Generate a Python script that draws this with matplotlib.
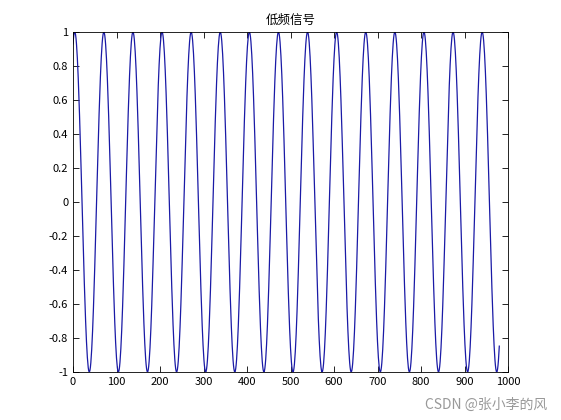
import numpy as np
import matplotlib
matplotlib.use("Agg")
import matplotlib.pyplot as plt

plt.rcParams['font.family'] = ['Noto Sans CJK SC', 'DejaVu Sans']

# signal parameters
n_samples = 981
period = 66.9
first_peak = 4.0

x = np.arange(n_samples)
y = np.cos(2 * np.pi * (x - first_peak) / period)

xticks = [0, 100, 200, 300, 400, 500, 600, 700, 800, 900, 1000]
yticks = [-1, -0.8, -0.6, -0.4, -0.2, 0, 0.2, 0.4, 0.6, 0.8, 1]

fig = plt.figure(figsize=(5.61, 4.20), dpi=100)
ax = fig.add_axes([73/561, 1 - 372/420, 435/561, 340/420])
ax.plot(x, y, color='#1a1aa6', lw=0.9)
ax.set_xlim(0, 1000)
ax.set_ylim(-1, 1)
ax.set_xticks(xticks)
ax.set_yticks(yticks)
ax.set_yticklabels(['-1', '-0.8', '-0.6', '-0.4', '-0.2', '0', '0.2', '0.4', '0.6', '0.8', '1'])
ax.tick_params(direction='in', top=True, right=True, labelsize=8, length=4, width=0.6)
for s in ax.spines.values():
    s.set_linewidth(0.6)
ax.set_title('低频信号', fontsize=9)

fig.text(0.975, 0.02, 'CSDN @张小李的风', ha='right', va='bottom', fontsize=10, color='#999999')
fig.savefig('out.png', dpi=100)
